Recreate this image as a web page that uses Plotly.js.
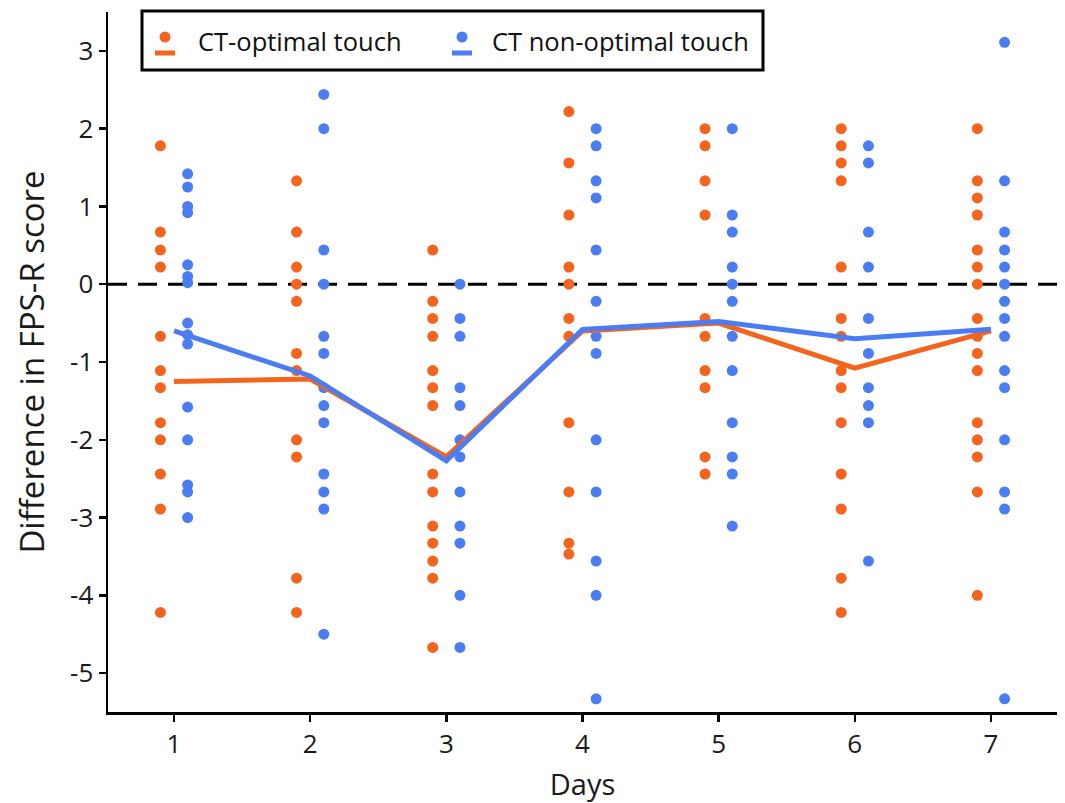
<!DOCTYPE html>
<html>
<head>
<meta charset="utf-8">
<script src="https://cdn.plot.ly/plotly-3.0.1.min.js"></script>
<style>html,body{margin:0;padding:0;background:#fff;}#chart{width:1065px;height:803px;}</style>
</head>
<body>
<div id="chart"></div>
<script>
// ---- Data ----
const days = [1, 2, 3, 4, 5, 6, 7];
const dayLabels = ['1', '2', '3', '4', '5', '6', '7'];
const yTickVals = [-5, -4, -3, -2, -1, 0, 1, 2, 3];
const yTickLabels = ['-5', '-4', '-3', '-2', '-1', '0', '1', '2', '3'];
const seriesNames = ['CT-optimal touch', 'CT non-optimal touch'];

// CT-optimal touch: individual differences per day
const optimalD1 = [1.78, 0.67, 0.44, 0.22, -0.67, -1.11, -1.33, -1.78, -2.0, -2.44, -2.89, -4.22];
const optimalD2 = [1.33, 0.67, 0.22, 0, -0.22, -0.89, -1.11, -2.0, -2.22, -3.78, -4.22];
const optimalD3 = [0.44, -0.22, -0.44, -0.67, -1.11, -1.33, -1.56, -2.44, -2.67, -3.11, -3.33, -3.56, -3.78, -4.67];
const optimalD4 = [2.22, 1.56, 0.89, 0.22, 0, -0.44, -0.67, -1.78, -2.67, -3.33, -3.47];
const optimalD5 = [2.0, 1.78, 1.33, 0.89, -0.44, -0.67, -1.11, -1.33, -2.22, -2.44];
const optimalD6 = [2.0, 1.78, 1.56, 1.33, 0.22, -0.44, -0.67, -1.11, -1.33, -1.78, -2.44, -2.89, -3.78, -4.22];
const optimalD7 = [2.0, 1.33, 1.11, 0.89, 0.44, 0.22, 0, -0.44, -0.67, -0.89, -1.11, -1.78, -2.0, -2.22, -2.67, -4.0];

// CT non-optimal touch: individual differences per day
const nonOptD1 = [1.42, 1.25, 1.0, 0.92, 0.25, 0.1, 0.02, -0.5, -0.65, -0.77, -1.58, -2.0, -2.58, -2.67, -3.0];
const nonOptD2 = [2.44, 2.0, 0.44, 0, -0.67, -0.89, -1.33, -1.56, -1.78, -2.44, -2.67, -2.89, -4.5];
const nonOptD3 = [0, -0.44, -0.67, -1.33, -1.56, -2.0, -2.22, -2.67, -3.11, -3.33, -4.0, -4.67];
const nonOptD4 = [2.0, 1.78, 1.33, 1.11, 0.44, -0.22, -0.67, -0.89, -2.0, -2.67, -3.56, -4.0, -5.33];
const nonOptD5 = [2.0, 0.89, 0.67, 0.22, 0, -0.22, -0.67, -1.11, -1.78, -2.22, -2.44, -3.11];
const nonOptD6 = [1.78, 1.56, 0.67, 0.22, -0.44, -0.89, -1.33, -1.56, -1.78, -3.56];
const nonOptD7 = [3.11, 1.33, 0.67, 0.44, 0.22, 0, -0.22, -0.44, -0.67, -1.11, -1.33, -2.0, -2.67, -2.89, -5.33];

// Group means (lines)
const optimalMean = [-1.25, -1.22, -2.22, -0.6, -0.5, -1.08, -0.6];
const nonOptMean = [-0.6, -1.18, -2.27, -0.58, -0.48, -0.7, -0.58];

// ---- Build traces ----
const ORANGE = '#f4641d';
const BLUE = '#4a7cf4';
const OFFSET = 0.1;

const optimalByDay = [optimalD1, optimalD2, optimalD3, optimalD4, optimalD5, optimalD6, optimalD7];
const nonOptByDay = [nonOptD1, nonOptD2, nonOptD3, nonOptD4, nonOptD5, nonOptD6, nonOptD7];

function flatten(groups, shift) {
  const xs = [], ys = [];
  groups.forEach((vals, i) => {
    vals.forEach(v => { xs.push(days[i] + shift); ys.push(v); });
  });
  return {x: xs, y: ys};
}
const optPts = flatten(optimalByDay, -OFFSET);
const nonPts = flatten(nonOptByDay, OFFSET);

const traces = [
  {x: optPts.x, y: optPts.y, type: 'scatter', mode: 'markers', name: seriesNames[0],
   marker: {color: ORANGE, size: 11}, showlegend: false, hoverinfo: 'skip'},
  {x: nonPts.x, y: nonPts.y, type: 'scatter', mode: 'markers', name: seriesNames[1],
   marker: {color: BLUE, size: 11}, showlegend: false, hoverinfo: 'skip'},
  {x: days, y: optimalMean, type: 'scatter', mode: 'lines', name: seriesNames[0],
   line: {color: ORANGE, width: 5}, showlegend: false},
  {x: days, y: nonOptMean, type: 'scatter', mode: 'lines', name: seriesNames[1],
   line: {color: BLUE, width: 5}, showlegend: false}
];

// ---- Custom legend (box, dot over short line, label) ----
const PLOT_L = 108, PLOT_W = 949, PLOT_B = 712, PLOT_H = 700;
const px2x = p => (p - PLOT_L) / PLOT_W;
const px2y = p => (PLOT_B - p) / PLOT_H;

const shapes = [
  {type: 'line', xref: 'paper', yref: 'y', x0: 0, x1: 1, y0: 0, y1: 0,
   line: {color: '#000', width: 3, dash: '19px,11px'}, layer: 'below'},
  {type: 'rect', xref: 'paper', yref: 'paper', x0: px2x(142), x1: px2x(763), y0: px2y(70), y1: px2y(11),
   line: {color: '#000', width: 3}, fillcolor: '#fff'}
];
const annotations = [];
[[ORANGE, 165, 196, seriesNames[0]], [BLUE, 462, 490, seriesNames[1]]].forEach(([c, cx, tx, label]) => {
  shapes.push({type: 'circle', xref: 'paper', yref: 'paper', xsizemode: 'pixel', ysizemode: 'pixel',
    xanchor: px2x(cx), yanchor: px2y(37), x0: -5.5, x1: 5.5, y0: -5.5, y1: 5.5,
    fillcolor: c, line: {width: 0}});
  shapes.push({type: 'line', xref: 'paper', yref: 'paper', xsizemode: 'pixel',
    xanchor: px2x(cx), x0: -10, x1: 10, y0: px2y(53), y1: px2y(53),
    line: {color: c, width: 5}});
  annotations.push({xref: 'paper', yref: 'paper', x: px2x(tx), y: px2y(41), xanchor: 'left', yanchor: 'middle',
    text: label, showarrow: false, font: {family: 'Open Sans', size: 25.5, color: '#111'}});
});

const layout = {
  width: 1065, height: 803,
  margin: {l: PLOT_L, r: 1065 - PLOT_L - PLOT_W, t: 12, b: 803 - PLOT_B},
  paper_bgcolor: '#fff', plot_bgcolor: '#fff',
  font: {family: 'Open Sans', color: '#111'},
  showlegend: false,
  xaxis: {
    range: [0.515, 7.485], tickvals: days, ticktext: dayLabels,
    showgrid: false, zeroline: false, showline: true, linecolor: '#000', linewidth: 2.5,
    ticks: 'outside', ticklen: 7, tickwidth: 2.5, tickcolor: '#000',
    tickfont: {family: 'Open Sans', size: 26, color: '#1a1a1a'},
    title: {text: 'Days', font: {family: 'Open Sans', size: 29, color: '#1a1a1a'}, standoff: 16}
  },
  yaxis: {
    range: [-5.5, 3.5], tickvals: yTickVals, ticktext: yTickLabels,
    showgrid: false, zeroline: false, showline: true, linecolor: '#000', linewidth: 2.5,
    ticks: 'outside', ticklen: 7, tickwidth: 2.5, tickcolor: '#000',
    tickfont: {family: 'Open Sans', size: 26, color: '#1a1a1a'},
    title: {text: 'Difference in FPS-R score', font: {family: 'Open Sans', size: 33, color: '#1a1a1a'}, standoff: 16}
  },
  shapes: shapes,
  annotations: annotations
};

Plotly.newPlot('chart', traces, layout, {displayModeBar: false, staticPlot: true});
</script>
</body>
</html>
